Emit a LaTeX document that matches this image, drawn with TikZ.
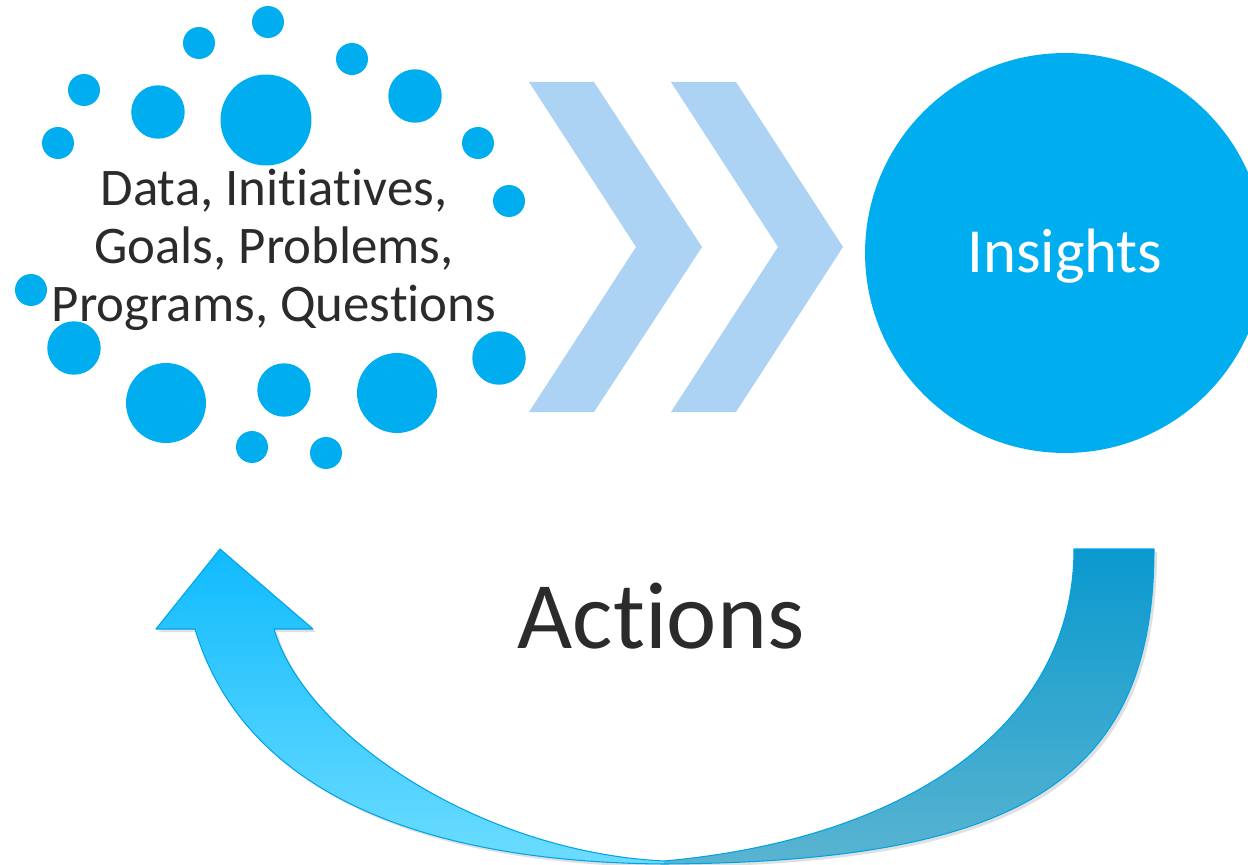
\documentclass[tikz,border=0pt]{standalone}
\usepackage{fontspec}
\setmainfont{Carlito}[Ligatures={NoCommon,NoContextual,NoRare},Contextuals={NoAlternate}]
\newcommand\nolig{\kern0pt\relax}
\definecolor{dotblue}{RGB}{0,174,239}
\definecolor{chev}{RGB}{173,211,244}
\definecolor{txt}{RGB}{43,43,43}
\definecolor{arrline}{RGB}{0,163,230}
\definecolor{lefttop}{RGB}{16,187,254}
\definecolor{leftbot}{RGB}{108,220,255}
\definecolor{righttop}{RGB}{10,153,207}
\definecolor{rightbot}{RGB}{90,180,208}
\newcommand\myarrowpath{(220,549) -- (313,629) -- (274,629) .. controls (305,735) and (480,852) .. (664,861) .. controls (900,840) and (1074,730) .. (1074,549) -- (1154,549) .. controls (1154,780) and (1020,862) .. (664,864) .. controls (400,862) and (240,780) .. (195,629) -- (156,629) -- cycle}
\begin{document}
\begin{tikzpicture}[x=0.02cm,y=-0.02cm,
  dot/.style={circle,fill=dotblue,inner sep=0pt,minimum size=#1},
  chevron/.style={fill=chev},
  bigtext/.style={text=txt}]
\clip (0,0) rectangle (1248,865);
\fill[white] (0,0) rectangle (1248,865);
% dots
\node[dot=0.64cm] (d1) at (268,22) {};
\node[dot=0.64cm] (d2) at (199,43) {};
\node[dot=0.64cm] (d3) at (352,59) {};
\node[dot=0.64cm] (d4) at (84,90) {};
\node[dot=1.07cm] (d5) at (158,112) {};
\node[dot=1.82cm] (d6) at (266,120) {};
\node[dot=1.07cm] (d7) at (415,96) {};
\node[dot=0.64cm] (d8) at (58,143) {};
\node[dot=0.64cm] (d9) at (478,143) {};
\node[dot=0.64cm] (d10) at (509,201) {};
\node[dot=0.64cm] (d11) at (31,290) {};
\node[dot=1.07cm] (d12) at (74,348) {};
\node[dot=1.6cm] (d13) at (166,403) {};
\node[dot=1.07cm] (d14) at (284,390) {};
\node[dot=1.6cm] (d15) at (397,393) {};
\node[dot=1.07cm] (d16) at (499,358) {};
\node[dot=0.64cm] (d17) at (252,447) {};
\node[dot=0.64cm] (d18) at (326,453) {};
% text of cluster
\node[bigtext,font=\fontsize{30.1}{33.2}\selectfont,align=center,inner sep=0pt] (data) at (274,250) {Data, Init\nolig ia\nolig t\nolig ives,\\Goals, Problems,\\Programs, Quest\nolig ions};
% chevrons
\fill[chevron] (529,82) -- (594,82) -- (702,247) -- (594,412) -- (529,412) -- (636,247) -- cycle;
\fill[chevron] (671,82) -- (736,82) -- (843,247) -- (736,412) -- (671,412) -- (778,247) -- cycle;
% insights
\node[circle,fill=dotblue,minimum size=8cm,inner sep=0pt,text=white,font=\fontsize{35.7}{40}\selectfont,text height=0.8cm,text depth=0pt] (insights) at (1065,253) {Insights};
% curved arrow
\begin{scope}[shift={(3,3)}]
\fill[black,opacity=0.12] \myarrowpath;
\end{scope}
\shade[top color=lefttop,bottom color=leftbot] (220,549) -- (313,629) -- (274,629) .. controls (305,735) and (480,852) .. (664,861) -- (664,864) .. controls (400,862) and (240,780) .. (195,629) -- (156,629) -- cycle;
\shade[top color=righttop,bottom color=rightbot] (664,861) .. controls (900,840) and (1074,730) .. (1074,549) -- (1154,549) .. controls (1154,780) and (1020,862) .. (664,864) -- cycle;
\draw[arrline,line width=0.6pt,line join=round] \myarrowpath;
\node[bigtext,font=\fontsize{54.2}{60}\selectfont,anchor=base,inner sep=0pt] (actions) at (661,648) {Act\nolig ions};
\end{tikzpicture}
\end{document}
